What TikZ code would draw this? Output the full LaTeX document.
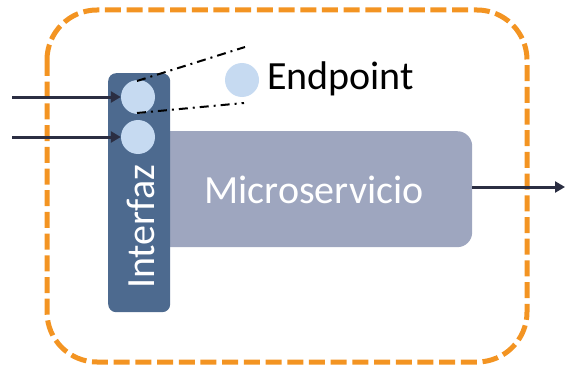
\documentclass[tikz,border=0pt]{standalone}
\usepackage{fontspec}
\setmainfont{Carlito}
\usetikzlibrary{arrows.meta}
\definecolor{ringorange}{HTML}{F39422}
\definecolor{ifaceblue}{HTML}{4D6A8F}
\definecolor{svcgrey}{HTML}{9EA6BF}
\definecolor{portblue}{HTML}{C6DAF1}
\definecolor{wire}{HTML}{2B2E42}
\tikzset{
  boundary/.style={draw=ringorange, line width=5pt, dash pattern=on 16pt off 5.7pt, rounded corners=50pt},
  port/.style={circle, fill=portblue, minimum size=34pt, inner sep=0pt},
  flow/.style={draw=wire, line width=3pt, -{Triangle[length=10pt,width=11pt]}},
  zoomline/.style={draw=black, line width=2pt, dash pattern=on 9pt off 5pt on 2pt off 5pt},
  label/.style={font=\fontsize{40}{40}\selectfont, inner sep=0pt}
}
\begin{document}
\begin{tikzpicture}[x=1pt,y=-1pt]
  \useasboundingbox (0,0) rectangle (565,369);
  % dashed service boundary
  \draw[boundary] (47,10) rectangle (527,362);
  % microservice body
  \node[fill=svcgrey, rounded corners=15pt, minimum width=330pt, minimum height=116pt, inner sep=0pt, anchor=north west] (svc) at (142,131) {};
  \node[label, text=white] (svctext) at (314,190) {Microservicio};
  % interface bar
  \node[fill=ifaceblue, rounded corners=8pt, minimum width=62pt, minimum height=239pt, inner sep=0pt, anchor=north west] (iface) at (108,73) {};
  \node[label, text=white, rotate=90] (ifacetext) at (141,227) {Interfaz};
  % ports
  \node[port] (p1) at (138,97) {};
  \node[port] (p2) at (138,137) {};
  % endpoint legend
  \node[port] (ep) at (242,80) {};
  \node[label, anchor=west] (eptext) at (267,79) {Endpoint};
  % zoom lines from the first port
  \coordinate (z1a) at (137,81);
  \coordinate (z1b) at (245,47);
  \coordinate (z2a) at (137,113);
  \coordinate (z2b) at (244,103);
  \draw[zoomline] (z1a) -- (z1b);
  \draw[zoomline] (z2a) -- (z2b);
  % incoming and outgoing calls
  \coordinate (in1) at (12,97);
  \coordinate (in2) at (12,137);
  \coordinate (out) at (565,187);
  \draw[flow] (in1) -- (p1.west);
  \draw[flow] (in2) -- (p2.west);
  \draw[flow] (svc.east |- out) -- (out);
\end{tikzpicture}
\end{document}
